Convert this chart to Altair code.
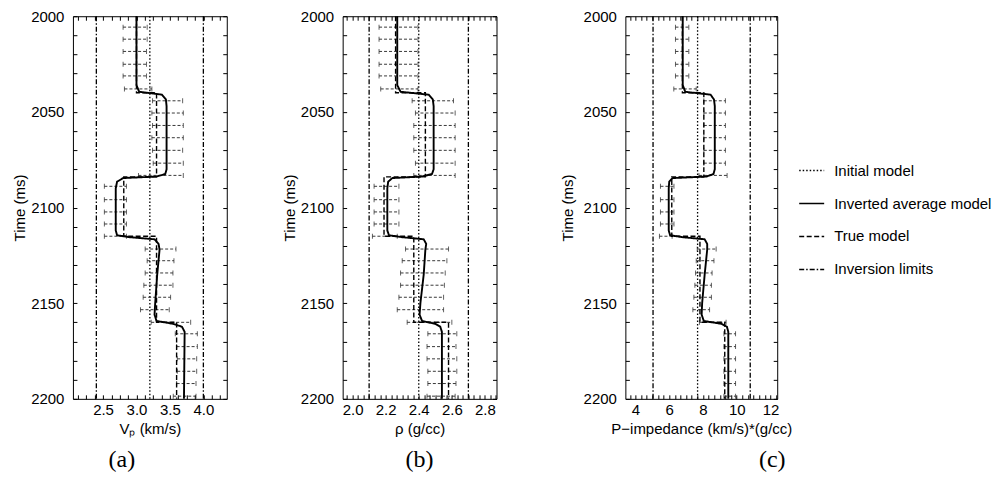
import altair as alt
import pandas as pd

FONT = "Liberation Sans"
SERIF = "Liberation Serif"

MODELS = ["Initial model", "Inverted average model", "True model", "Inversion limits"]
DASHES = [[1.5, 2], [1, 0], [5, 2.5], [5, 2, 1.5, 2]]

time_ticks = list(range(2000, 2201, 10))

# step times of the true model
true_t = [2000, 2040, 2040, 2084, 2084, 2115, 2115, 2160, 2160, 2200]
# sample times of the inverted average model
inv_t = [2000, 2036, 2039.5, 2041, 2043.5, 2047, 2080, 2082.5, 2083.8, 2084.6,
         2086.5, 2090, 2112, 2114.5, 2115.5, 2116.6, 2119, 2122, 2135, 2150,
         2156, 2159.3, 2160.8, 2162.3, 2165, 2200]
# times of the uncertainty bars
bar_t = [2005.7, 2012.0, 2018.4, 2025.1, 2031.2, 2038.0, 2044.2, 2050.6, 2057.1,
         2063.5, 2070.1, 2076.8, 2083.2, 2088.9, 2095.9, 2102.3, 2108.6, 2115.0,
         2121.7, 2127.8, 2134.2, 2140.6, 2146.9, 2153.4, 2160.0, 2166.0, 2172.7,
         2179.1, 2185.6, 2192.0, 2198.6]

# ---- (a) Vp ----
vp_initial = [3.2]
vp_limits = [2.4, 4.0]
vp_true = [3.0, 3.0, 3.3, 3.3, 2.81, 2.81, 3.3, 3.3, 3.6, 3.6]
vp_inv = [3.00, 3.00, 3.04, 3.38, 3.44, 3.45, 3.45, 3.43, 3.30, 2.80,
          2.71, 2.69, 2.69, 2.71, 2.90, 3.27, 3.33, 3.345, 3.31, 3.28,
          3.27, 3.30, 3.55, 3.68, 3.72, 3.71]
vp_lo = [2.80, 2.80, 2.80, 2.80, 2.80, 2.82,
         3.24, 3.23, 3.24, 3.23, 3.24, 3.25, 3.03,
         2.52, 2.52, 2.52, 2.52, 2.52,
         3.13, 3.16, 3.13, 3.11, 3.10, 3.06, 3.22,
         3.58, 3.60, 3.61, 3.61, 3.60, 3.55]
vp_hi = [3.16, 3.16, 3.15, 3.15, 3.15, 3.23,
         3.69, 3.70, 3.70, 3.70, 3.69, 3.70, 3.70,
         2.85, 2.85, 2.85, 2.85, 2.85,
         3.59, 3.56, 3.545, 3.545, 3.51, 3.49, 3.81,
         3.91, 3.91, 3.90, 3.90, 3.89, 3.89]

# ---- (b) density ----
rho_initial = [2.4]
rho_limits = [2.1, 2.7]
rho_true = [2.26, 2.26, 2.44, 2.44, 2.19, 2.19, 2.37, 2.37, 2.58, 2.58]
rho_inv = [2.27, 2.27, 2.29, 2.46, 2.485, 2.49, 2.49, 2.48, 2.42, 2.24,
           2.215, 2.21, 2.21, 2.22, 2.30, 2.43, 2.445, 2.44, 2.43, 2.41,
           2.405, 2.42, 2.50, 2.53, 2.54, 2.54]
rho_lo = [2.16, 2.16, 2.16, 2.16, 2.16, 2.17,
          2.36, 2.38, 2.37, 2.37, 2.37, 2.38, 2.37,
          2.13, 2.13, 2.13, 2.13, 2.12,
          2.32, 2.30, 2.29, 2.29, 2.28, 2.27, 2.33,
          2.455, 2.45, 2.45, 2.455, 2.455, 2.45]
rho_hi = [2.395, 2.395, 2.395, 2.395, 2.395, 2.395,
          2.61, 2.62, 2.62, 2.62, 2.62, 2.62, 2.62,
          2.28, 2.28, 2.28, 2.28, 2.27,
          2.58, 2.57, 2.56, 2.555, 2.55, 2.55, 2.60,
          2.63, 2.625, 2.63, 2.63, 2.625, 2.62]

# ---- (c) P-impedance ----
imp_initial = [7.68]
imp_limits = [5.04, 10.8]
imp_true = [6.78, 6.78, 8.05, 8.05, 6.15, 6.15, 7.82, 7.82, 9.29, 9.29]
imp_inv = [6.80, 6.80, 6.95, 8.45, 8.65, 8.70, 8.70, 8.62, 8.20, 6.20,
           6.00, 5.97, 5.97, 6.05, 6.80, 8.10, 8.25, 8.25, 8.10, 7.95,
           7.92, 8.05, 9.10, 9.42, 9.50, 9.50]
imp_lo = [6.37, 6.37, 6.37, 6.37, 6.37, 6.27,
          8.05, 8.05, 8.05, 8.05, 8.05, 8.05, 7.76,
          5.48, 5.48, 5.48, 5.48, 5.42,
          7.66, 7.60, 7.56, 7.52, 7.46, 7.40, 7.79,
          9.24, 9.24, 9.24, 9.24, 9.24, 9.24]
imp_hi = [7.16, 7.16, 7.16, 7.16, 7.16, 7.60,
          9.33, 9.33, 9.33, 9.33, 9.33, 9.33, 9.43,
          6.28, 6.28, 6.28, 6.28, 6.17,
          8.78, 8.65, 8.54, 8.50, 8.50, 8.39, 9.37,
          9.93, 9.93, 9.93, 9.93, 9.93, 9.93]

# axis tick positions
a_ticks = [2.125 + 0.125 * i for i in range(18)]
b_ticks = [i / 30 for i in range(59, 87)]
c_ticks = [i / 3 for i in range(11, 38)]

LEGEND = alt.Legend(
    title=None, orient="none", legendX=726, legendY=141,
    symbolType="stroke", symbolSize=625, symbolStrokeWidth=1.6,
    symbolStrokeColor="black", labelFont=FONT, labelFontSize=15,
    labelColor="black", labelOffset=9, rowPadding=11, padding=0,
)
DASH_SCALE = alt.Scale(domain=MODELS, range=DASHES)


def panel(xtitle, caption, cap_dx, domain, ticks, label_expr, initial, limits,
          tv, iv, lo, hi, width, tpad):
    xs = alt.Scale(domain=domain, nice=False, zero=False)
    ys = alt.Scale(domain=[2000, 2200], reverse=True, nice=False, zero=False)
    dash = alt.StrokeDash("model:N", scale=DASH_SCALE, legend=LEGEND)

    ax_bottom = alt.Axis(orient="bottom", values=ticks, labelExpr=label_expr,
                         title=xtitle, offset=-4, tickSize=4, labelPadding=4,
                         titlePadding=4, domain=False, grid=False,
                         labelOverlap=False, labelFlush=False)
    ax_top = alt.Axis(orient="top", values=ticks, labels=False, title=None,
                      offset=-4, tickSize=4, domain=False, grid=False)
    ax_left = alt.Axis(orient="left", values=time_ticks,
                       labelExpr="datum.value % 50 === 0 ? format(datum.value, 'd') : ''",
                       title="Time (ms)", offset=-4, tickSize=4, labelPadding=9,
                       titlePadding=tpad, domain=False, grid=False,
                       labelOverlap=False)
    ax_right = alt.Axis(orient="right", values=time_ticks, labels=False,
                        title=None, offset=-4, tickSize=4, domain=False,
                        grid=False)

    lim_df = pd.DataFrame({"v": limits, "model": "Inversion limits"})
    ini_df = pd.DataFrame({"v": initial, "model": "Initial model"})
    true_df = pd.DataFrame({"t": true_t, "v": tv, "i": list(range(len(tv))),
                            "model": "True model"})
    inv_df = pd.DataFrame({"t": inv_t, "v": iv, "i": list(range(len(iv))),
                           "model": "Inverted average model"})
    bar_df = pd.DataFrame({"t": bar_t, "lo": lo, "hi": hi})

    lim = alt.Chart(lim_df).mark_rule(color="black", strokeWidth=1.3).encode(
        x=alt.X("v:Q", scale=xs, axis=None), strokeDash=dash)
    ini = alt.Chart(ini_df).mark_rule(color="black", strokeWidth=1.3).encode(
        x=alt.X("v:Q", scale=xs, axis=None), strokeDash=dash)
    bars = alt.Chart(bar_df).mark_rule(color="#222222", strokeWidth=0.9,
                                       strokeDash=[3, 2]).encode(
        x=alt.X("lo:Q", scale=xs, axis=None), x2="hi:Q",
        y=alt.Y("t:Q", scale=ys, axis=None))
    caps = alt.Chart(bar_df).transform_fold(["lo", "hi"], as_=["end", "val"]).mark_tick(
        orient="vertical", size=5, thickness=1, color="#222222").encode(
        x=alt.X("val:Q", scale=xs, axis=None),
        y=alt.Y("t:Q", scale=ys, axis=None))
    true_line = alt.Chart(true_df).mark_line(color="black", strokeWidth=1.4).encode(
        x=alt.X("v:Q", scale=xs, axis=ax_top),
        y=alt.Y("t:Q", scale=ys, axis=ax_right),
        order=alt.Order("i:Q"), strokeDash=dash)
    inv_line = alt.Chart(inv_df).mark_line(color="black", strokeWidth=1.9).encode(
        x=alt.X("v:Q", scale=xs, axis=ax_bottom),
        y=alt.Y("t:Q", scale=ys, axis=ax_left),
        order=alt.Order("i:Q"), strokeDash=dash)

    return alt.layer(lim, ini, bars, caps, true_line, inv_line).resolve_axis(
        x="independent", y="independent").properties(
        width=width, height=383,
        title=alt.TitleParams(caption, orient="bottom", anchor="middle",
                              frame="group", dx=cap_dx, font=SERIF, fontSize=24,
                              fontWeight="normal", color="black", offset=11))


pa = panel("Vₚ (km/s)", "(a)", -28, [2.05, 4.35], a_ticks,
           "abs(datum.value*2 - round(datum.value*2)) < 0.001 ? format(datum.value, '.1f') : ''",
           vp_initial, vp_limits, vp_true, vp_inv, vp_lo, vp_hi, 154, 3)
pb = panel("ρ (g/cc)", "(b)", 0, [1.94, 2.87], b_ticks,
           "abs(datum.value*5 - round(datum.value*5)) < 0.001 ? format(datum.value, '.1f') : ''",
           rho_initial, rho_limits, rho_true, rho_inv, rho_lo, rho_hi, 154, 3)
pc = panel("P−impedance (km/s)*(g/cc)", "(c)", 71, [3.4, 12.4], c_ticks,
           "abs(datum.value/2 - round(datum.value/2)) < 0.001 ? format(datum.value, 'd') : ''",
           imp_initial, imp_limits, imp_true, imp_inv, imp_lo, imp_hi, 152, 8)

chart = alt.hconcat(alt.hconcat(pa, pb, spacing=54), pc, spacing=62).properties(
    padding={"left": 4, "top": 0, "right": 0, "bottom": 0}
).configure_view(stroke="black", strokeWidth=1).configure_axis(
    labelFont=FONT, labelFontSize=15, labelColor="black",
    titleFont=FONT, titleFontSize=15, titleFontWeight="normal",
    titleColor="black", tickColor="black", tickWidth=1,
)

chart.save("out.html", embed_options={"renderer": "svg", "actions": False})
